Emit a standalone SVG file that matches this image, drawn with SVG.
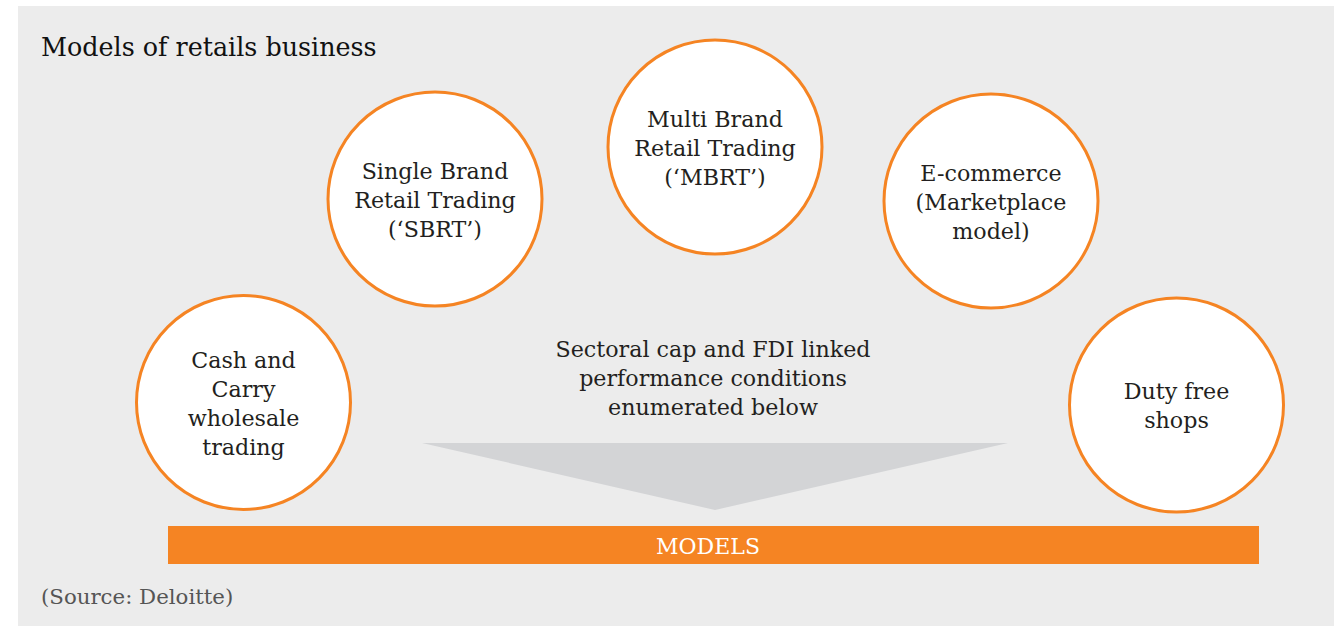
<svg xmlns="http://www.w3.org/2000/svg" width="1334" height="626" viewBox="0 0 1334 626">
  <style>
    .bg { fill: #ececec; }
    .node circle { fill: #ffffff; stroke: #f58423; stroke-width: 3; }
    .lbl { font-family: "DejaVu Serif", "Liberation Serif", serif; font-size: 22.2px; fill: #231f20; text-anchor: middle; }
    .title { font-family: "DejaVu Serif", "Liberation Serif", serif; font-size: 25.4px; fill: #111111; }
    .src { font-family: "DejaVu Serif", "Liberation Serif", serif; font-size: 21.3px; fill: #555555; }
    .bar { fill: #f58423; }
    .barlbl { font-family: "DejaVu Serif", "Liberation Serif", serif; font-size: 22px; fill: #ffffff; text-anchor: middle; }
  </style>
  <rect class="bg" x="18" y="6" width="1316" height="620"/>
  <text class="title" x="41" y="56">Models of retails business</text>

  <g id="connectors">
    <polygon points="422,443 1008,443 715,510" fill="#d3d4d6"/>
  </g>

  <g id="node-cash-carry" class="node">
    <circle cx="243.5" cy="402.5" r="107"/>
    <text class="lbl" x="243.5" y="368">Cash and</text>
    <text class="lbl" x="243.5" y="397">Carry</text>
    <text class="lbl" x="243.5" y="426">wholesale</text>
    <text class="lbl" x="243.5" y="455">trading</text>
  </g>

  <g id="node-sbrt" class="node">
    <circle cx="435" cy="199" r="107"/>
    <text class="lbl" x="435" y="179">Single Brand</text>
    <text class="lbl" x="435" y="208">Retail Trading</text>
    <text class="lbl" x="435" y="237">(‘SBRT’)</text>
  </g>

  <g id="node-mbrt" class="node">
    <circle cx="715" cy="147" r="107"/>
    <text class="lbl" x="715" y="127">Multi Brand</text>
    <text class="lbl" x="715" y="156">Retail Trading</text>
    <text class="lbl" x="715" y="185">(‘MBRT’)</text>
  </g>

  <g id="node-ecommerce" class="node">
    <circle cx="991" cy="201" r="107"/>
    <text class="lbl" x="991" y="181">E-commerce</text>
    <text class="lbl" x="991" y="210">(Marketplace</text>
    <text class="lbl" x="991" y="239">model)</text>
  </g>

  <g id="node-dutyfree" class="node">
    <circle cx="1176.5" cy="405" r="107"/>
    <text class="lbl" x="1176.5" y="399">Duty free</text>
    <text class="lbl" x="1176.5" y="428">shops</text>
  </g>

  <g id="node-conditions">
    <text class="lbl" x="713" y="357">Sectoral cap and FDI linked</text>
    <text class="lbl" x="713" y="386">performance conditions</text>
    <text class="lbl" x="713" y="415">enumerated below</text>
  </g>

  <g id="node-models">
    <rect class="bar" x="168" y="526" width="1091" height="38"/>
    <text class="barlbl" x="708" y="554">MODELS</text>
  </g>

  <text class="src" x="41" y="604">(Source: Deloitte)</text>
</svg>
